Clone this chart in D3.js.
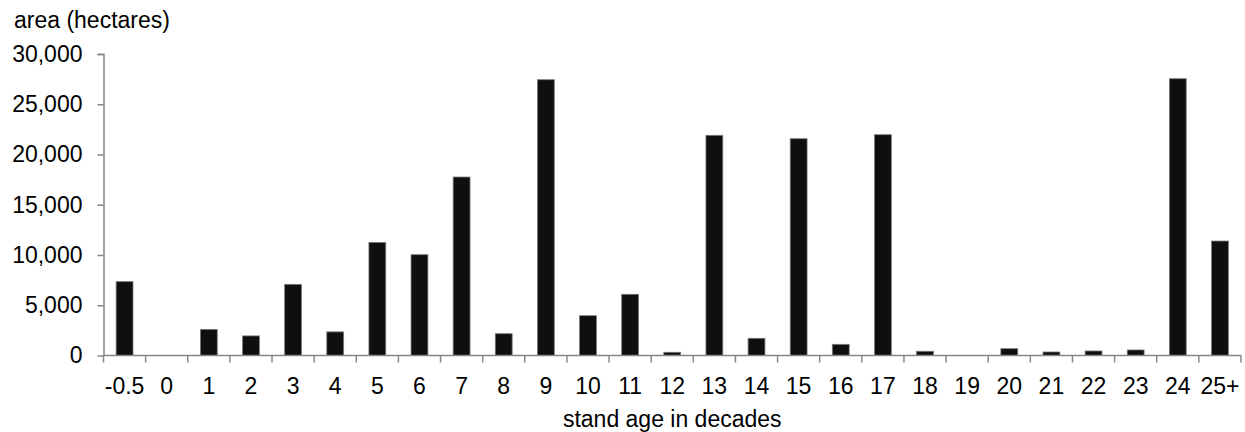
<!DOCTYPE html>
<meta charset="utf-8">
<script src="https://d3js.org/d3.v7.min.js"></script>
<style>
body { margin: 0; background: #fff; }
text { font-family: "Liberation Sans", Arial, sans-serif; fill: #000; }
</style>
<div id="my_dataviz"></div>
<script>

// data
var ageClasses = ["-0.5","0","1","2","3","4","5","6","7","8","9","10","11","12",
                  "13","14","15","16","17","18","19","20","21","22","23","24","25+"];
var areaHa = [7350, 0, 2600, 1950, 7080, 2350, 11250, 10030, 17760, 2170, 27440, 3960, 6090, 320,
              21910, 1710, 21570, 1110, 21970, 420, 0, 680, 350, 450, 550, 27540, 11390];
var yTicks = [0, 5000, 10000, 15000, 20000, 25000, 30000];

var data = ageClasses.map(function(d, i) { return {age: d, area: areaHa[i]}; });

// dimensions and margins
var margin = {top: 54, right: 4, bottom: 76.5, left: 103.5},
    width = 1245 - margin.left - margin.right,
    height = 432 - margin.top - margin.bottom;

var fontSize = "23px";
var axisColor = "#868686";

var svg = d3.select("#my_dataviz")
  .append("svg")
    .attr("width", 1245)
    .attr("height", 432)
  .append("g")
    .attr("transform", "translate(" + margin.left + "," + margin.top + ")");

// scales
var x = d3.scaleBand()
  .domain(ageClasses)
  .range([0, width])
  .padding(0);

var y = d3.scaleLinear()
  .domain([0, 30000])
  .range([height, 0]);

// bars
svg.append("g")
  .selectAll("rect")
  .data(data)
  .enter()
  .append("rect")
    .attr("x", function(d) { return x(d.age) + x.bandwidth() * 0.3; })
    .attr("width", x.bandwidth() * 0.4)
    .attr("y", function(d) { return y(d.area); })
    .attr("height", function(d) { return height - y(d.area); })
    .style("fill", "#0f0f0f")
    .style("stroke", "#7a7a7a")
    .style("stroke-width", 0.8);

// Y axis
var yAxis = svg.append("g")
  .call(d3.axisLeft(y)
    .tickValues(yTicks)
    .tickSize(6)
    .tickPadding(15)
    .tickFormat(d3.format(",")));
yAxis.select(".domain").attr("stroke", axisColor).attr("stroke-width", 1.5).attr("d", "M0.5," + height + "V0.5H-6");
yAxis.selectAll(".tick line").attr("stroke", axisColor).attr("stroke-width", 1.5);
yAxis.selectAll(".tick text")
  .style("font-size", fontSize)
  .attr("font-family", null);

// X axis: baseline + ticks between categories
var xAxis = svg.append("g")
  .attr("transform", "translate(0," + height + ")");
xAxis.append("line")
  .attr("x1", 0).attr("x2", width)
  .attr("y1", 0).attr("y2", 0)
  .attr("stroke", axisColor)
  .attr("stroke-width", 1.5);
var boundaries = ageClasses.map(function(d) { return x(d); }).concat([width]);
xAxis.selectAll(".xtick")
  .data(boundaries)
  .enter()
  .append("line")
    .attr("class", "xtick")
    .attr("x1", function(d) { return d; })
    .attr("x2", function(d) { return d; })
    .attr("y1", 0).attr("y2", 7)
    .attr("stroke", axisColor)
    .attr("stroke-width", 1.5);
xAxis.selectAll(".xlabel")
  .data(ageClasses)
  .enter()
  .append("text")
    .attr("class", "xlabel")
    .attr("x", function(d) { return x(d) + x.bandwidth() / 2; })
    .attr("y", 38)
    .style("text-anchor", "middle")
    .style("font-size", fontSize)
    .text(function(d) { return d; });

// axis titles
svg.append("text")
  .attr("x", width / 2)
  .attr("y", height + 71)
  .style("text-anchor", "middle")
  .style("font-size", fontSize)
  .text("stand age in decades");

svg.append("text")
  .attr("x", 14 - margin.left)
  .attr("y", 28 - margin.top)
  .style("text-anchor", "start")
  .style("font-size", fontSize)
  .text("area (hectares)");

</script>
